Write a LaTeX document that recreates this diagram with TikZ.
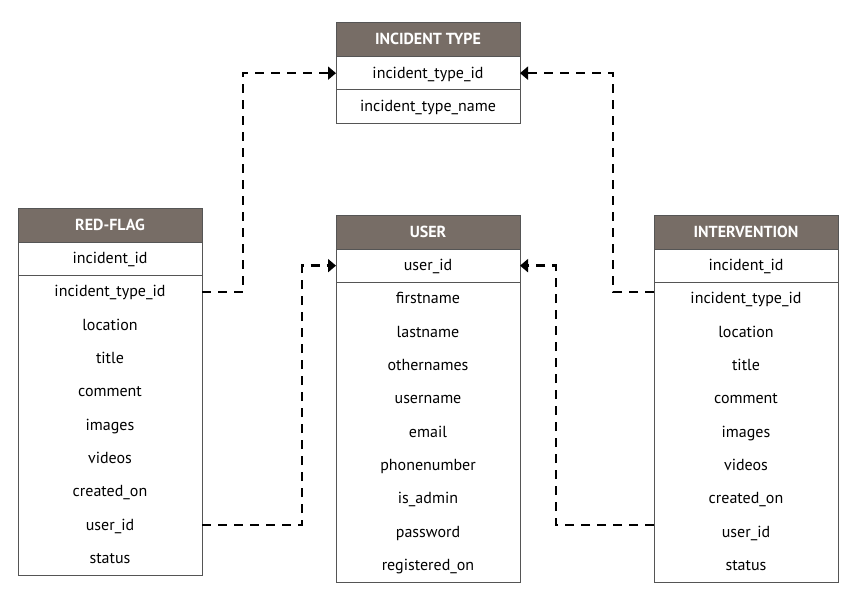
\documentclass[tikz,border=0pt]{standalone}
\usepackage{fontspec}
\setmainfont{PT Sans}
\usetikzlibrary{positioning,arrows.meta}
\definecolor{hdrbrown}{RGB}{119,109,102}
\definecolor{edgegray}{RGB}{85,85,85}
\begin{document}
\begin{tikzpicture} [
   x=1pt, y=-1pt, node distance=0pt, font=\fontsize{16}{19}\selectfont,
   hdr/.style={fill=hdrbrown, draw=edgegray, text=white, font=\fontsize{16}{19}\selectfont\bfseries,
      minimum width=184pt, minimum height=34pt, inner sep=0pt, outer sep=0pt, text height=12.5pt, text depth=2.5pt},
   fld/.style={minimum width=184pt, minimum height=33.3pt, inner sep=0pt, outer sep=0pt, text height=12.5pt, text depth=2.5pt},
   frame/.style={draw=edgegray, line width=0.9pt},
   link/.style={-{Triangle[length=8pt,width=13pt]}, line width=2.6pt, dash pattern=on 9pt off 7pt}
]
   \useasboundingbox (0,0) rectangle (865,599);
   % incident type
   \node (it0) [hdr] at (428,39.5) {INCIDENT TYPE};
   \foreach \f [count=\i, remember=\i as \j (initially 0)] in {incident\_type\_id, incident\_type\_name}
      \node (it\i) [fld, below=of it\j] {\f};
   \draw[frame] (it0.north west) rectangle (it2.south east);
   \draw[frame] (it1.south west) -- (it1.south east);
   % red-flag
   \node (rf0) [hdr] at (110,225) {RED-FLAG};
   \foreach \f [count=\i, remember=\i as \j (initially 0)] in {incident\_id, incident\_type\_id, location, title,
         comment, images, videos, created\_on, user\_id, status}
      \node (rf\i) [fld, below=of rf\j] {\f};
   \draw[frame] (rf0.north west) rectangle (rf10.south east);
   \draw[frame] (rf1.south west) -- (rf1.south east);
   % user
   \node (us0) [hdr] at (428,232) {USER};
   \foreach \f [count=\i, remember=\i as \j (initially 0)] in {user\_id, firstname, lastname, othernames,
         username, email, phonenumber, is\_admin, password, registered\_on}
      \node (us\i) [fld, below=of us\j] {\f};
   \draw[frame] (us0.north west) rectangle (us10.south east);
   \draw[frame] (us1.south west) -- (us1.south east);
   % intervention
   \node (iv0) [hdr] at (746,232) {INTERVENTION};
   \foreach \f [count=\i, remember=\i as \j (initially 0)] in {incident\_id, incident\_type\_id, location, title,
         comment, images, videos, created\_on, user\_id, status}
      \node (iv\i) [fld, below=of iv\j] {\f};
   \draw[frame] (iv0.north west) rectangle (iv10.south east);
   \draw[frame] (iv1.south west) -- (iv1.south east);
   % links
   \draw[link] (rf2.east) -- ++(41,0) |- (it1.west);
   \draw[link] (rf9.east) -- ++(100,0) |- (us1.west);
   \draw[link] (iv2.west |- rf2.east) -- ++(-41,0) |- (it1.east);
   \draw[link] (iv9.west |- rf9.east) -- ++(-98,0) |- (us1.east);
\end{tikzpicture}
\end{document}
